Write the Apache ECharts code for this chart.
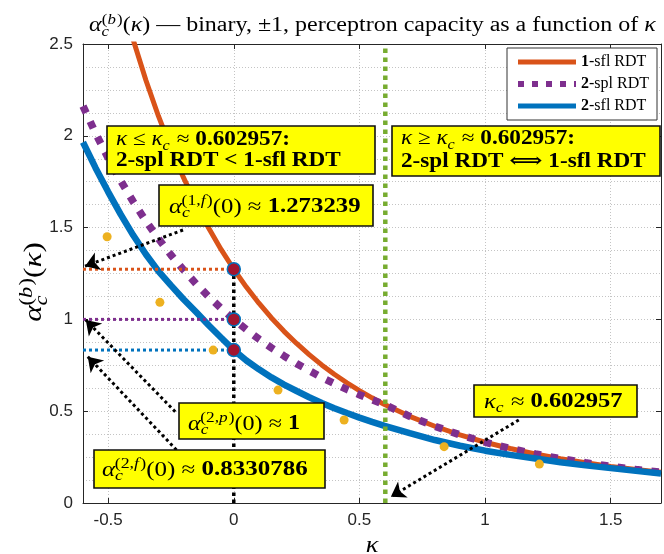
<!DOCTYPE html>
<html><head><meta charset="utf-8">
<script src="https://cdn.jsdelivr.net/npm/echarts@6/dist/echarts.min.js"></script>
<style>html,body{margin:0;padding:0;background:#fff}#c{width:664px;height:554px}</style>
</head><body><div id="c"></div>
<script>
// ---- data ----
const kappa = [-0.6,-0.55,-0.5,-0.45,-0.4,-0.35,-0.3,-0.25,-0.2,-0.15,-0.1,-0.05,0,0.05,0.1,0.15,0.2,0.25,0.3,0.35,0.4,0.45,0.5,0.55,0.6,0.7,0.8,0.9,1.0,1.1,1.2,1.3,1.4,1.5,1.6,1.7];
const alpha1sfl = [null,null,null,null,2.522,2.304,2.108,1.931,1.772,1.628,1.498,1.380,1.273,1.176,1.088,1.008,0.935,0.869,0.808,0.752,0.701,0.655,0.612,0.573,0.536,0.472,0.418,0.371,0.331,0.297,0.267,0.241,0.219,0.199,0.182,0.167];
const alpha2spl = [2.162,2.014,1.879,1.755,1.641,1.536,1.440,1.351,1.270,1.194,1.124,1.060,1.000,0.945,0.893,0.845,0.801,0.759,0.721,0.684,0.651,0.619,0.590,0.562,0.536,0.472,0.418,0.371,0.331,0.297,0.267,0.241,0.219,0.199,0.182,0.167];
const alpha2sfl = [1.965,1.825,1.695,1.572,1.458,1.355,1.263,1.185,1.110,1.040,0.968,0.900,0.833,0.776,0.728,0.684,0.645,0.610,0.576,0.545,0.516,0.490,0.465,0.442,0.420,0.380,0.343,0.312,0.285,0.262,0.242,0.222,0.205,0.190,0.175,0.161];
const dotKappa = [-0.504,-0.294,-0.082,0.176,0.439,0.837,1.216];
const dotAlpha = [1.450,1.093,0.833,0.615,0.452,0.307,0.212];
const keyKappa = [0,0,0];
const keyAlpha = [1.273239,1,0.8330786];
const kappaC = 0.602957;
const xTicks = [-0.5,0,0.5,1,1.5];
const yTicks = [0,0.5,1,1.5,2,2.5];
const arrowTails = [[-0.202,1.487],[-0.233,0.497],[-0.228,0.289],[1.134,0.452]];
const arrowTips  = [[-0.592,1.290],[-0.589,0.997],[-0.581,0.797],[0.625,0.034]];
const seriesNames = ['1-sfl RDT','2-spl RDT','2-sfl RDT'];

// ---- styles ----
const C_OR='#D95319', C_PU='#7E2F8E', C_BL='#0072BD', C_YE='#EDB120', C_GR='#77AC30', C_DR='#A2142F';
const SERIF="'Liberation Serif', 'DejaVu Serif', serif";
const SANS="'Liberation Sans', Arial, sans-serif";
const AX='#262626';
const GRID={color:'#c4c4c4',type:[1,2],width:1};

function R(F,color){
  const L=Math.round(F*1.45), s=Math.round(F*0.7), pt=Math.round(F*0.08);
  const b={fontFamily:SERIF,color:color};
  return {
    i:Object.assign({},b,{fontStyle:'italic',fontSize:F,lineHeight:L}),
    r:Object.assign({},b,{fontSize:F,lineHeight:L}),
    b:Object.assign({},b,{fontWeight:'bold',fontSize:F,lineHeight:L}),
    sb:Object.assign({},b,{fontStyle:'italic',fontSize:s,verticalAlign:'bottom',padding:[0,1,Math.round(F*0.04),0]}),
    spn:Object.assign({},b,{fontSize:s,verticalAlign:'top',padding:[pt,0,0,-Math.round(s*0.5)]}),
    sp:Object.assign({},b,{fontSize:s,verticalAlign:'top',padding:[pt,0,0,0]}),
    spi:Object.assign({},b,{fontStyle:'italic',fontSize:s,verticalAlign:'top',padding:[pt,1,0,0]})
  };
}
function txt(x,y,text,F,color,align,sx,rot){
  return {type:'text',x:x,y:y,z:110,rotation:rot||0,scaleX:sx||1,
    style:{text:text,rich:R(F,color),align:align||'left',verticalAlign:'middle',textAlign:align||'left',textVerticalAlign:'middle'}};
}
function box(x,y,w,h){
  return {type:'rect',z:100,shape:{x:x,y:y,width:w,height:h},style:{fill:'#FFFF00',stroke:'#111',lineWidth:1.6}};
}
const pts=(xs,ys)=>xs.map((x,i)=>[x,ys[i]]).filter(p=>p[1]!==null);
const seg=(a,b)=>[a,b];
const fmt=v=>{const k=Math.round(v*2); return Math.abs(v*2-k)<1e-6 ? String(k/2) : '';};

const chart=echarts.init(document.getElementById('c'),null,{renderer:'canvas'});
const refLine=(data,color,w,dash,z)=>({type:'line',data:data,symbol:'none',silent:true,z:z||5,
  lineStyle:{color:color,width:w,type:dash,cap:'butt'},animation:false});

const LS=[
  {color:C_OR,width:5,type:'solid'},
  {color:C_PU,width:7.5,type:[7.5,9.5],cap:'butt'},
  {color:C_BL,width:6.5,type:'solid'}
];
const LEG=[
  {color:C_OR,width:5,type:'solid'},
  {color:C_PU,width:6,type:[6,8],cap:'butt'},
  {color:C_BL,width:5,type:'solid'}
];

chart.setOption({
  animation:false,
  backgroundColor:'#fff',
  grid:{left:83,right:3,top:44,bottom:51,containLabel:false},
  xAxis:[
    {type:'value',position:'bottom',min:-0.6,max:1.7,interval:0.1,
     axisLine:{onZero:false,lineStyle:{color:AX,width:1}},
     axisTick:{show:true,inside:true,length:5,customValues:xTicks,lineStyle:{color:AX}},
     axisLabel:{customValues:xTicks,formatter:fmt,fontFamily:SANS,fontSize:17,color:AX,margin:9},
     splitLine:{show:true,lineStyle:GRID}},
    {type:'value',position:'top',min:-0.6,max:1.7,interval:0.1,
     axisLine:{onZero:false,lineStyle:{color:AX,width:1}},
     axisTick:{show:true,inside:true,length:5,customValues:xTicks,lineStyle:{color:AX}},
     axisLabel:{show:false},splitLine:{show:false}}
  ],
  yAxis:[
    {type:'value',position:'left',min:0,max:2.5,interval:0.5,
     axisLine:{show:true,onZero:false,lineStyle:{color:AX,width:1}},
     axisTick:{show:true,inside:true,length:5,lineStyle:{color:AX}},
     axisLabel:{formatter:fmt,fontFamily:SANS,fontSize:17,color:AX,margin:10},
     splitLine:{show:true,lineStyle:GRID},
     minorTick:{show:false,splitNumber:4},
     minorSplitLine:{show:true,lineStyle:GRID}},
    {type:'value',position:'right',min:0,max:2.5,interval:0.5,
     axisLine:{show:true,onZero:false,lineStyle:{color:AX,width:1}},
     axisTick:{show:true,inside:true,length:5,lineStyle:{color:AX}},
     axisLabel:{show:false},splitLine:{show:false}}
  ],
  legend:{data:seriesNames.map((n,i)=>({name:n,lineStyle:LEG[i]})),orient:'vertical',right:7,top:48,itemGap:6,itemWidth:58,itemHeight:14,
    padding:[6,8,6,8],borderColor:'#333',borderWidth:1,backgroundColor:'#fff',selectedMode:false,z:50,
    itemStyle:{opacity:0},
    formatter:n=>n.replace(/^(\d)/,'{b|$1}'),
    textStyle:{fontFamily:SERIF,fontSize:16,color:'#000',rich:{b:{fontFamily:SERIF,fontSize:16,fontWeight:'bold',color:'#000'}}}},
  series:[
    {name:seriesNames[0],type:'line',data:pts(kappa,alpha1sfl),symbol:'none',smooth:false,z:3,
     lineStyle:LS[0],itemStyle:{color:C_OR}},
    {name:seriesNames[1],type:'line',data:pts(kappa,alpha2spl),symbol:'none',smooth:false,z:4,
     lineStyle:LS[1],itemStyle:{color:C_PU}},
    {name:seriesNames[2],type:'line',data:pts(kappa,alpha2sfl),symbol:'none',smooth:false,z:4,
     lineStyle:LS[2],itemStyle:{color:C_BL}},
    refLine(seg([kappaC,0],[kappaC,2.5]),C_GR,4.5,[4.5,4.5],6),
    refLine(seg([-0.6,keyAlpha[0]],[keyKappa[0],keyAlpha[0]]),C_OR,3,[3,3],6),
    refLine(seg([-0.6,keyAlpha[1]],[keyKappa[1],keyAlpha[1]]),C_PU,3,[3,3],6),
    refLine(seg([-0.6,keyAlpha[2]],[keyKappa[2],keyAlpha[2]]),C_BL,3,[3,3],6),
    refLine(seg([keyKappa[0],0],[keyKappa[0],keyAlpha[0]]),'#000',3.5,[3.5,3.5],6),
    {type:'scatter',data:pts(dotKappa,dotAlpha),symbol:'circle',symbolSize:9,z:7,silent:true,
     itemStyle:{color:C_YE,opacity:1}},
    {type:'lines',coordinateSystem:'cartesian2d',z:8,silent:true,
     data:arrowTails.map((t,i)=>({coords:[t,arrowTips[i]]})),
     symbol:['none','arrow'],symbolSize:[9,14],
     lineStyle:{color:'#000',width:3,type:[3,3],opacity:1,curveness:0}},
    {type:'scatter',data:pts(keyKappa,keyAlpha),symbol:'circle',symbolSize:13,z:9,silent:true,
     itemStyle:{color:C_DR,borderColor:C_BL,borderWidth:1.5,opacity:1}}
  ],
  graphic:[
    txt(89,26,'{i|α}{sb|c}{spn|(}{spi|b}{sp|)}{r|(}{i|κ}{r|) — binary, ±1, perceptron capacity as a function of }{i|κ}',20,'#000','left',1.2),
    txt(372,546,'{i|κ}',24,'#222','center',1.1),
    txt(34,282,'{i|α}{sb|c}{spn|(}{spi|b}{sp|)}{r|(}{i|κ}{r|)}',25,'#222','center',1.25,Math.PI/2),
    box(107,126,268,48),
    txt(116,140,'{i|κ}{r| ≤ }{i|κ}{sb|c}{r| ≈ }{b|0.602957:}',20,C_PU,'left',1.16),
    txt(116,161,'{b|2-spl RDT < 1-sfl RDT}',20,C_PU,'left',1.16),
    box(392,126,268,50),
    txt(401,139,'{i|κ}{r| ≥ }{i|κ}{sb|c}{r| ≈ }{b|0.602957:}',20,C_PU,'left',1.16),
    txt(401,162,'{b|2-spl RDT ⟺ 1-sfl RDT}',20,C_PU,'left',1.16),
    box(159,185,214,41),
    txt(169,207,'{i|α}{sb|c}{spn|(}{sp|1,}{spi|f}{sp|)}{r|(0) ≈ }{b|1.273239}',21,C_OR,'left',1.18),
    box(179,403,145,36),
    txt(188,424,'{i|α}{sb|c}{spn|(}{sp|2,}{spi|p}{sp|)}{r|(0) ≈ }{b|1}',21,C_PU,'left',1.15),
    box(94,450,231,38),
    txt(102,470,'{i|α}{sb|c}{spn|(}{sp|2,}{spi|f}{sp|)}{r|(0) ≈ }{b|0.8330786}',21,C_BL,'left',1.19),
    box(474,385,163,32),
    txt(484,402,'{i|κ}{sb|c}{r| ≈ }{b|0.602957}',21,C_GR,'left',1.17)
  ]
});
</script></body></html>
